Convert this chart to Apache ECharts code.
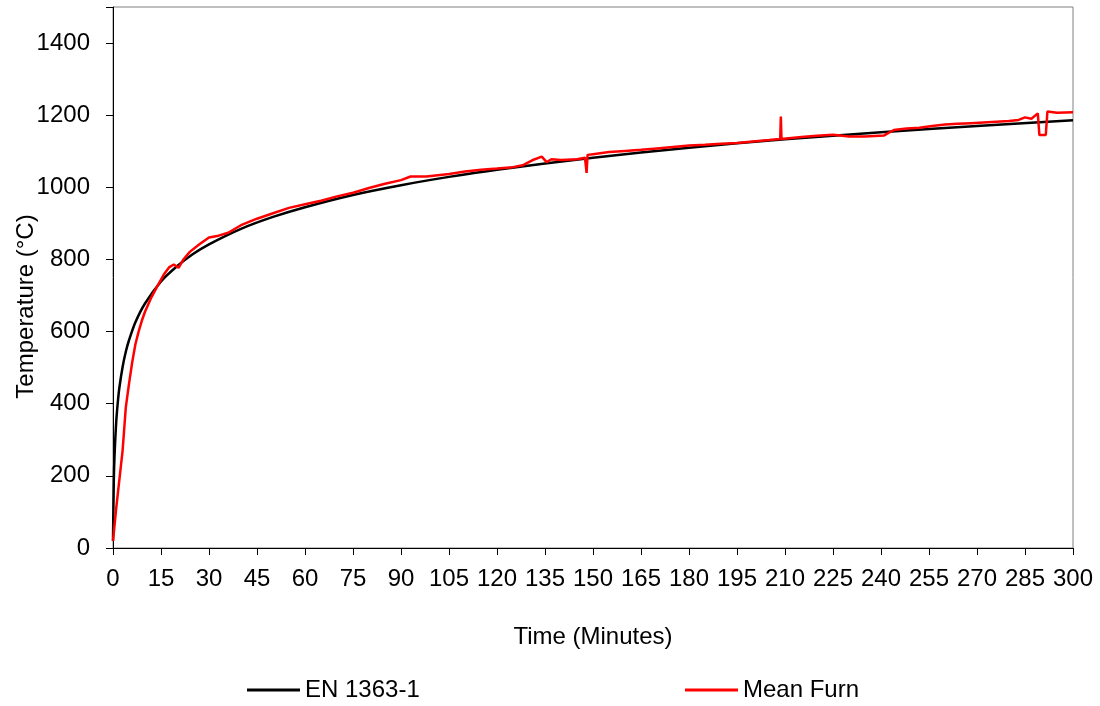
<!DOCTYPE html>
<html>
<head>
<meta charset="utf-8">
<script src="https://cdn.jsdelivr.net/npm/echarts@6/dist/echarts.min.js"></script>
<style>
  html, body { margin: 0; padding: 0; background: #fff; }
  #main { width: 1100px; height: 706px; }
</style>
</head>
<body>
<div id="main"></div>
<script>
// standard curve
var stdTime = [0, 0.25, 0.5, 1, 1.5, 2, 3, 4, 5, 7, 10, 15, 20, 25, 30, 40, 50, 60, 75, 90, 105, 120, 150, 180, 210, 240, 270, 300];
var stdTemp = [20, 185, 261, 349, 404, 445, 502, 544, 576, 626, 678, 739, 781, 815, 842, 885, 918, 945, 979, 1006, 1029, 1049, 1082, 1110, 1133, 1153, 1170, 1186];

// mean furnace temperature
var furnTime = [0, 1, 2, 3, 4, 5, 6, 7, 8, 9, 10, 12, 14, 16, 17.5, 19, 20.5, 22, 24, 27, 30, 33, 36, 40, 45, 50, 55, 60, 65, 70, 75, 80, 85, 90, 93, 98,
  105, 110, 115, 120, 125, 128, 131, 134, 135.5, 137, 140, 145, 147.5, 148, 148.3, 150, 155, 160, 165, 170, 175, 180, 185, 190, 195, 200, 205,
  208.5, 208.7, 208.9, 212, 216, 220, 225, 230, 235, 241, 244, 248, 252, 256, 260, 264, 268, 272, 276, 280, 283, 285, 287, 289, 289.5, 291.5, 292, 295, 300];
var furnTemp = [20, 110, 190, 270, 390, 455, 515, 565, 600, 630, 655, 695, 728, 760, 778, 786, 777, 800, 821, 842, 861, 866, 874, 895, 913, 928, 943, 953, 963, 975, 985, 998, 1010, 1020, 1030, 1030,
  1037, 1044, 1049, 1052, 1056, 1061, 1075, 1085, 1070, 1078, 1076, 1078, 1082, 1040, 1090, 1092, 1098, 1101, 1104, 1108, 1112, 1116, 1118, 1121, 1123, 1127, 1131,
  1134, 1196, 1134, 1137, 1140, 1143, 1146, 1141, 1141, 1144, 1159, 1163, 1165, 1170, 1174, 1176, 1178, 1180, 1182, 1184, 1187, 1194, 1190, 1205, 1145, 1145, 1210, 1207, 1208];

function pairs(xs, ys) {
    var out = [];
    for (var i = 0; i < xs.length; i++) {
        out.push([xs[i], ys[i]]);
    }
    return out;
}

var font = 'Liberation Sans, Arial, sans-serif';
var chart = echarts.init(document.getElementById('main'));

var option = {
    animation: false,
    textStyle: { fontFamily: font },
    grid: {
        left: 113, right: 27, top: 7, bottom: 158,
        containLabel: false,
        outerBoundsMode: 'none',
        show: true, borderColor: '#808080', borderWidth: 1
    },
    legend: [{
        data: ['EN 1363-1'],
        left: 247, top: 678, padding: 0,
        icon: 'rect', itemWidth: 53, itemHeight: 3,
        textStyle: { fontSize: 24, color: '#000', fontFamily: font }
    }, {
        data: ['Mean Furn'],
        left: 685, top: 678, padding: 0,
        icon: 'rect', itemWidth: 53, itemHeight: 3,
        textStyle: { fontSize: 24, color: '#000', fontFamily: font }
    }],
    xAxis: {
        type: 'value',
        min: 0, max: 300, interval: 15,
        name: 'Time (Minutes)',
        nameLocation: 'middle',
        nameGap: 77,
        nameMoveOverlap: false,
        nameTextStyle: { fontSize: 24, color: '#000', fontFamily: font },
        axisLine: { lineStyle: { color: '#000', width: 1 } },
        axisTick: { inside: false, length: 7, lineStyle: { color: '#000' } },
        axisLabel: { fontSize: 24, color: '#000', margin: 19, fontFamily: font },
        splitLine: { show: false }
    },
    yAxis: {
        type: 'value',
        min: 0, max: 1500, interval: 200,
        name: 'Temperature (°C)',
        nameLocation: 'middle',
        nameGap: 75,
        nameMoveOverlap: false,
        // title sits a little below the middle of the axis
        nameTextStyle: { fontSize: 24, color: '#000', fontFamily: font, padding: [0, 58, 0, 0] },
        axisLine: { show: true, lineStyle: { color: '#000', width: 1 } },
        axisTick: { show: true, length: 7, lineStyle: { color: '#000' } },
        axisLabel: {
            fontSize: 24, color: '#000', margin: 23, fontFamily: font,
            formatter: function (v) { return v > 1400 ? '' : v; }
        },
        splitLine: { show: false }
    },
    series: [{
        name: 'EN 1363-1',
        type: 'line',
        data: pairs(stdTime, stdTemp),
        smooth: 0.3,
        showSymbol: false,
        color: '#000',
        lineStyle: { color: '#000', width: 2.5 },
        z: 2
    }, {
        name: 'Mean Furn',
        type: 'line',
        data: pairs(furnTime, furnTemp),
        showSymbol: false,
        color: '#ff0000',
        lineStyle: { color: '#ff0000', width: 2.5 },
        z: 3
    }]
};
chart.setOption(option);
</script>
</body>
</html>
